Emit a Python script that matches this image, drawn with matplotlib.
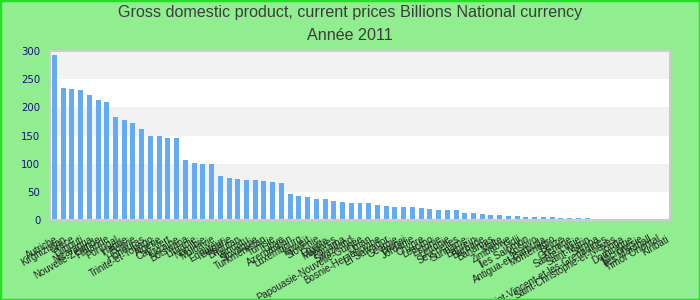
import matplotlib
matplotlib.use("Agg")
import matplotlib.pyplot as plt
from matplotlib.patches import Rectangle
from matplotlib import font_manager

title = "Gross domestic product, current prices Billions National currency"
subtitle = "Année 2011"

countries = [
    "Autriche", "Kirghizistan", "Grèce", "Djibouti", "Nicaragua",
    "Nouvelle-Zélande", "Finlande", "Portugal", "Irlande", "Bolivie",
    "Honduras", "Trinité-et-Tobago", "Algérie", "Cap-Vert", "Ukraine",
    "Botswana", "Lituanie", "Namibie", "Moldavie", "Équateur",
    "Bulgarie", "Bhoutan", "Vanuatu", "Slovaquie", "Turkménistan",
    "Tunisie", "Libye", "Azerbaïdjan", "Luxembourg", "Koweït",
    "Slovénie", "Égypte", "Maldives", "Panama", "Swaziland",
    "Papouasie-Nouvelle-Guinée", "Oman", "Bosnie-Herzégovine", "El Salvador", "Géorgie",
    "Brunei", "Jordanie", "Chypre", "Lesotho", "Estonie",
    "Lettonie", "Seychelles", "Suriname", "Bahreïn", "Barbade",
    "Bahamas", "Malte", "Zimbabwe", "Fidji", "Îles Salomon",
    "Kosovo", "Antigua-et-Barbuda", "Monténégro", "Belize", "Grenade",
    "Sainte-Lucie", "Saint-Marin", "Samoa", "Saint-Vincent-et-les-Grenadines", "Saint-Christophe-et-Niévès",
    "Tonga", "Dominique", "Micronésie", "Îles Marshall", "Timor Oriental",
    "Kiribati",
]
values = [
    293, 234, 232, 231, 222,
    213, 209, 183, 177, 172,
    161, 149, 149, 146, 146,
    106, 101, 99, 99, 78,
    75, 73, 71, 71, 69,
    67.5, 66, 46, 43, 41,
    37, 37, 34, 32, 30,
    30, 30, 27, 25, 23,
    23, 23, 21, 19.5, 18,
    18, 18, 12.4, 12.4, 10.7,
    9, 9, 7, 7, 5.3,
    5.3, 5.3, 5.3, 3.6, 3.6,
    3.6, 3.6, 1.8, 1.8, 1.8,
    1.8, 1.8, 1.8, 0.2, 0.2,
    0.2,
]
yticks = [0, 50, 100, 150, 200, 250, 300]

avail = {f.name for f in font_manager.fontManager.ttflist}
title_font = "Liberation Sans Narrow" if "Liberation Sans Narrow" in avail else "Liberation Sans"
title_size = 12.2 if title_font == "Liberation Sans Narrow" else 11.6

BG = "#90ee90"
fig = plt.figure(figsize=(7, 3), dpi=100, facecolor=BG)
ax = fig.add_axes([50/700, 1-220/300, 620/700, 169/300])
ax.set_facecolor("white")

for lo in (50, 150, 250):
    ax.axhspan(lo, lo + 50, color="#f2f2f2", zorder=0, lw=0)

x = list(range(len(countries)))
ax.bar(x, values, width=0.57, color="#64aaf4", zorder=2)
ax.set_xlim(-0.5, len(countries) - 0.5)
ax.set_ylim(0, 300)
ax.set_yticks(yticks)
ax.set_yticklabels([str(v) for v in yticks], color="#14147a",
                   fontsize=7.3, family="DejaVu Sans")
ax.tick_params(axis="y", length=0, pad=7)
ax.set_xticks(x)
ax.set_xticklabels(countries, rotation=30, ha="right", va="top",
                   rotation_mode="anchor", fontsize=7, family="Liberation Sans",
                   color="#222222")
ax.tick_params(axis="x", length=0, pad=10)
for s in ax.spines.values():
    s.set_color("#cccccc")
    s.set_linewidth(1.5)

fig.text(0.5, 1-13/300, title, ha="center", va="center", fontsize=title_size,
         family=title_font, color="#3c3c3c")
fig.text(0.5, 1-36/300, subtitle, ha="center", va="center", fontsize=title_size,
         family=title_font, color="#3c3c3c")

fig.patches.append(Rectangle((0, 0), 1, 1, transform=fig.transFigure,
                             fill=False, edgecolor="#22e022", lw=2.5))

fig.savefig("out.png", dpi=100, facecolor=BG)
